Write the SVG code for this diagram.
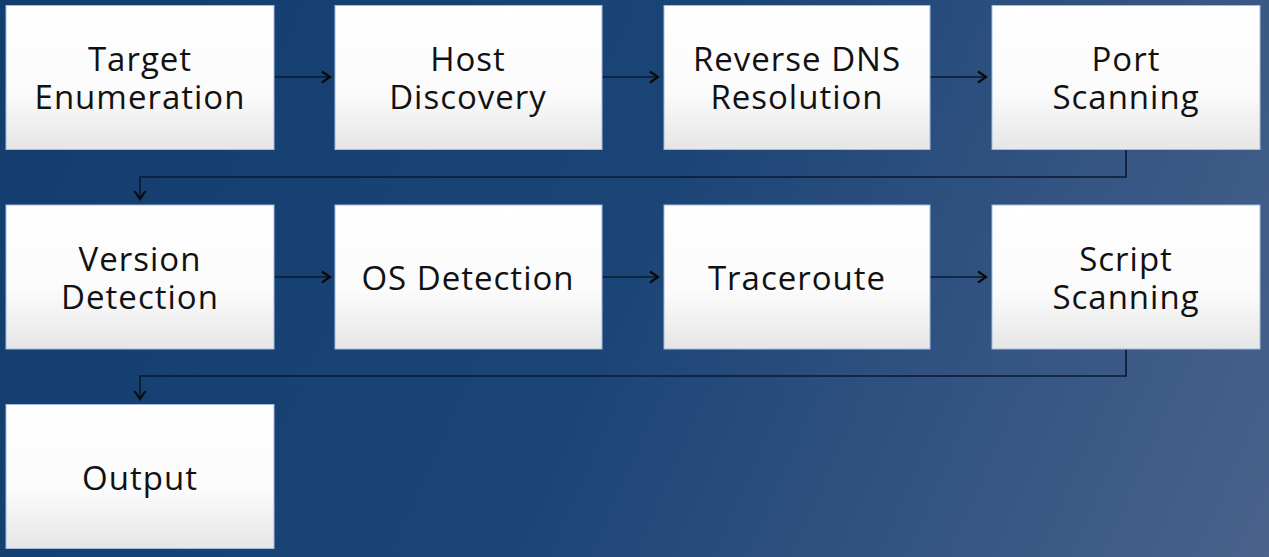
<svg xmlns="http://www.w3.org/2000/svg" width="1269" height="557" viewBox="0 0 1269 557">
<defs>
<linearGradient id="bg" x1="0" y1="0" x2="1269" y2="557" gradientUnits="userSpaceOnUse">
<stop offset="0" stop-color="#133d6e"/>
<stop offset="0.5" stop-color="#1c4577"/>
<stop offset="1" stop-color="#4a628c"/>
</linearGradient>
<linearGradient id="box" x1="0" y1="0" x2="0" y2="1">
<stop offset="0" stop-color="#ffffff"/>
<stop offset="0.6" stop-color="#fbfbfb"/>
<stop offset="1" stop-color="#e6e6e6"/>
</linearGradient>
<marker id="arr" markerWidth="14" markerHeight="14" refX="10" refY="7" orient="auto" markerUnits="userSpaceOnUse">
<path d="M2,1.5 L10,7 L2,12.5" fill="none" stroke="#0a0a0a" stroke-width="2.2"/>
</marker>
<style>
.b{fill:url(#box);stroke:#9fbde0;stroke-width:1}
.t{font-family:"Open Sans","Noto Sans",sans-serif;font-size:33px;fill:#111;text-anchor:middle;letter-spacing:1px}
.c{fill:none;stroke:#0b1a2e;stroke-width:1.6}
</style>
</defs>
<rect width="1269" height="557" fill="url(#bg)"/>
<g id="connectors">
<path class="c" d="M274,77 H330" marker-end="url(#arr)"/>
<path class="c" d="M602,77 H658" marker-end="url(#arr)"/>
<path class="c" d="M930,77 H986" marker-end="url(#arr)"/>
<path class="c" d="M1126,149 V177 H140 V199" marker-end="url(#arr)"/>
<path class="c" d="M274,277 H330" marker-end="url(#arr)"/>
<path class="c" d="M602,277 H658" marker-end="url(#arr)"/>
<path class="c" d="M930,277 H986" marker-end="url(#arr)"/>
<path class="c" d="M1126,349 V376 H140 V399" marker-end="url(#arr)"/>
</g>
<g id="n1"><rect class="b" x="6" y="5.5" width="268" height="144"/><text class="t" x="140" y="71">Target</text><text class="t" x="140" y="109">Enumeration</text></g>
<g id="n2"><rect class="b" x="335" y="5.5" width="267" height="144"/><text class="t" x="468" y="71">Host</text><text class="t" x="468" y="109">Discovery</text></g>
<g id="n3"><rect class="b" x="664" y="5.5" width="266" height="144"/><text class="t" x="797" y="71">Reverse DNS</text><text class="t" x="797" y="109">Resolution</text></g>
<g id="n4"><rect class="b" x="992" y="5.5" width="268" height="144"/><text class="t" x="1126" y="71">Port</text><text class="t" x="1126" y="109">Scanning</text></g>
<g id="n5"><rect class="b" x="6" y="205" width="268" height="144"/><text class="t" x="140" y="271">Version</text><text class="t" x="140" y="309">Detection</text></g>
<g id="n6"><rect class="b" x="335" y="205" width="267" height="144"/><text class="t" x="468" y="290">OS Detection</text></g>
<g id="n7"><rect class="b" x="664" y="205" width="266" height="144"/><text class="t" x="797" y="290">Traceroute</text></g>
<g id="n8"><rect class="b" x="992" y="205" width="268" height="144"/><text class="t" x="1126" y="271">Script</text><text class="t" x="1126" y="309">Scanning</text></g>
<g id="n9"><rect class="b" x="6" y="404.5" width="268" height="144"/><text class="t" x="140" y="490">Output</text></g>
</svg>
